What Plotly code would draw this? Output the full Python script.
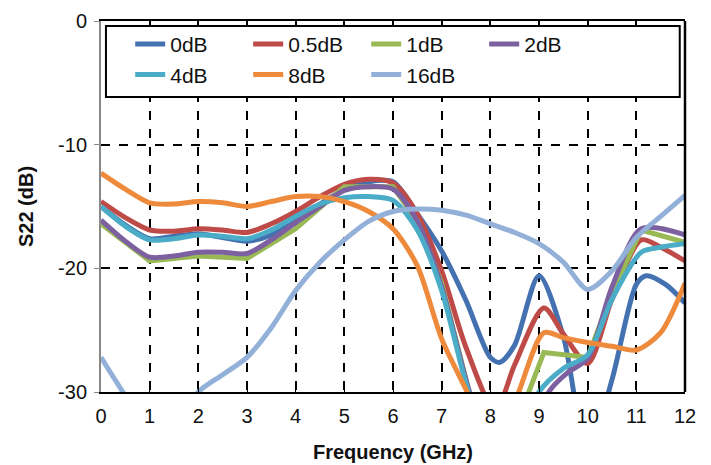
import plotly.graph_objects as go

# ---- data (frequency in GHz, S22 in dB) ----
names = ["0dB", "0.5dB", "1dB", "2dB", "4dB", "8dB", "16dB"]
colors = ["#4472B0", "#BE4B48", "#98B954", "#7D60A0", "#4AACC6", "#EE8A3C", "#93B1D8"]

f_0dB = [0, 0.5, 1, 1.5, 2, 2.5, 3, 3.5, 4, 4.5, 5, 5.5, 6, 6.5, 7, 7.5, 8, 8.2, 8.5, 9, 9.5, 10, 10.5, 11, 11.2, 11.6, 12]
s_0dB = [-15.0, -16.5, -17.6, -17.4, -17.2, -17.5, -17.8, -17.3, -16.1, -14.8, -13.6, -13.0, -13.0, -15.6, -18.6, -22.6, -27.2, -27.6, -26.2, -20.6, -25.5, -35.0, -29.0, -21.3, -20.6, -21.3, -22.8]

f_05dB = [0, 0.5, 1, 1.5, 2, 2.5, 3, 3.5, 4, 4.5, 5, 5.5, 6, 6.5, 7, 7.5, 8.1, 8.5, 9.1, 9.5, 10, 10.5, 11.1, 11.5, 12]
s_05dB = [-14.6, -15.9, -16.9, -17.0, -16.8, -16.9, -17.1, -16.4, -15.4, -14.2, -13.2, -12.8, -13.1, -15.6, -20.2, -26.4, -31.5, -27.8, -23.2, -25.3, -27.7, -22.5, -17.7, -18.3, -19.4]

f_1dB = [0, 1, 2, 3, 4, 5, 6, 6.5, 7, 7.5, 8, 8.5, 9.1, 10, 10.5, 11.1, 12]
s_1dB = [-16.4, -19.4, -19.0, -19.2, -16.8, -13.4, -13.4, -16.2, -21.2, -29.0, -40.0, -33.0, -26.8, -27.2, -22.0, -16.9, -17.9]

f_2dB = [0, 0.5, 1, 1.5, 2, 2.5, 3, 3.5, 4, 4.5, 5, 5.5, 6, 6.5, 7, 7.5, 8, 8.5, 9.2, 9.6, 10, 10.5, 11.1, 12]
s_2dB = [-16.1, -17.8, -19.1, -19.0, -18.7, -18.7, -18.8, -17.7, -16.3, -15.0, -13.7, -13.4, -13.6, -16.2, -21.5, -29.0, -35.0, -37.0, -30.0, -28.4, -27.3, -21.5, -16.8, -17.3]

f_4dB = [0, 0.5, 1, 1.5, 2, 2.5, 3, 3.5, 4, 4.5, 5, 5.5, 6, 6.5, 7, 7.5, 8, 8.5, 9.0, 9.5, 10, 10.5, 11.1, 11.5, 12]
s_4dB = [-15.0, -16.6, -17.7, -17.6, -17.3, -17.4, -17.6, -16.9, -15.8, -14.8, -14.3, -14.2, -14.5, -16.9, -21.8, -29.3, -35.0, -35.0, -30.0, -28.1, -27.0, -22.5, -18.7, -18.3, -18.0]

f_8dB = [0, 0.5, 1, 1.5, 2, 2.5, 3, 3.5, 4, 4.5, 5, 5.5, 6, 6.5, 7, 7.5, 8, 8.5, 9.1, 9.5, 10, 10.5, 11, 11.5, 12]
s_8dB = [-12.3, -13.6, -14.7, -14.8, -14.6, -14.7, -15.0, -14.6, -14.2, -14.2, -14.6, -15.4, -16.8, -19.8, -25.7, -29.8, -34.0, -30.8, -25.2, -25.6, -26.0, -26.3, -26.6, -25.2, -21.2]

f_16dB = [0, 0.5, 1, 1.5, 2, 2.5, 3, 3.5, 4, 4.5, 5, 5.5, 6, 6.5, 7, 7.5, 8, 8.5, 9, 9.5, 10, 10.5, 11, 11.5, 12]
s_16dB = [-27.2, -30.3, -33.0, -33.0, -30.0, -28.6, -27.2, -24.8, -21.8, -19.5, -17.7, -16.2, -15.4, -15.2, -15.3, -15.7, -16.4, -17.1, -18.0, -19.5, -21.7, -20.2, -17.5, -15.8, -14.1]

x_ticks = list(range(0, 13))
y_ticks = [-30, -20, -10, 0]

series = [
    (f_0dB, s_0dB, "spline"),
    (f_05dB, s_05dB, "spline"),
    (f_1dB, s_1dB, "linear"),
    (f_2dB, s_2dB, "spline"),
    (f_4dB, s_4dB, "spline"),
    (f_8dB, s_8dB, "spline"),
    (f_16dB, s_16dB, "spline"),
]

FONT = "Liberation Sans, Arial, sans-serif"

fig = go.Figure()
for (fx, sy, shape), name, col in zip(series, names, colors):
    fig.add_trace(go.Scatter(
        x=fx, y=sy, name=name, mode="lines",
        line=dict(color=col, width=5, shape=shape, smoothing=0.8),
        cliponaxis=True,
    ))

fig.update_layout(
    width=711, height=465,
    margin=dict(l=93, r=34, t=13, b=81),
    paper_bgcolor="white", plot_bgcolor="white",
    font=dict(family=FONT, size=20, color="#111"),
    showlegend=True,
    legend=dict(
        orientation="h", x=0.05, y=0.992, xanchor="left", yanchor="top",
        bgcolor="rgba(0,0,0,0)", borderwidth=0,
        entrywidth=73, entrywidthmode="pixels",
        font=dict(family=FONT, size=21, color="#111"),
        traceorder="normal", tracegroupgap=0,
    ),
    xaxis=dict(
        range=[0, 12], tickvals=x_ticks, ticktext=[str(v) for v in x_ticks],
        showgrid=True, gridcolor="black", griddash="dash", gridwidth=1.5,
        showline=True, linecolor="black", linewidth=2, mirror=True,
        ticks="inside", ticklen=5, tickcolor="black",
        zeroline=False, automargin=False, ticklabelstandoff=5,
        title=dict(text="<b>Frequency (GHz)</b>", font=dict(size=20), standoff=19),
        tickfont=dict(size=20),
    ),
    yaxis=dict(
        range=[-30, 0], tickvals=y_ticks, ticktext=[str(v) for v in y_ticks],
        showgrid=True, gridcolor="black", griddash="dash", gridwidth=1.5,
        showline=True, linecolor="#888888", linewidth=2,
        ticks="outside", ticklen=5, tickcolor="#888888",
        zeroline=False, automargin=False, ticklabelstandoff=3,
        title=dict(text="<b>S22 (dB)</b>", font=dict(size=20), standoff=19),
        tickfont=dict(size=20),
    ),
)

# legend frame (white box with black border)
fig.add_shape(type="rect", xref="paper", yref="paper",
              x0=0.0085, x1=0.991, y0=0.795, y1=0.9865,
              line=dict(color="black", width=2), fillcolor="white", layer="above")
# right border of the plot area
fig.add_shape(type="line", xref="paper", yref="paper",
              x0=1, x1=1, y0=0, y1=1,
              line=dict(color="black", width=2.5), layer="above")

fig.write_html("out.html")
